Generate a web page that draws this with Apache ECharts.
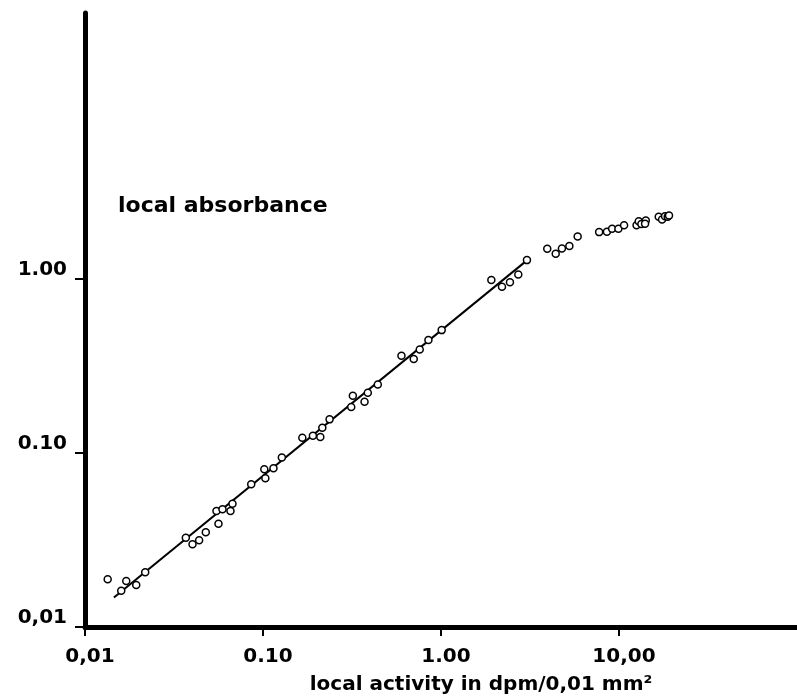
<!DOCTYPE html>
<html>
<head>
<meta charset="utf-8">
<script src="https://cdn.jsdelivr.net/npm/echarts@6/dist/echarts.min.js"></script>
<style>
  html, body { margin: 0; padding: 0; background: #fff; }
  #chart { width: 797px; height: 697px; }
</style>
</head>
<body>
<div id="chart"></div>
<script>
// Tick positions and labels
const xTickValues = [0.01, 0.1, 1, 10];
const xTickLabels = ['0,01', '0.10', '1.00', '10,00'];
const yTickValues = [0.01, 0.1, 1];
const yTickLabels = ['0,01', '0.10', '1.00'];

// Measured points: local activity (x) and local absorbance (y)
const activity = [
  0.01341, 0.01598, 0.01705, 0.01940, 0.02179, 0.03685, 0.04018, 0.04377, 0.04771, 0.05622,
  0.05478, 0.05921, 0.06566, 0.06738, 0.08586, 0.1017, 0.1031, 0.1145, 0.1276, 0.1663,
  0.1907, 0.2099, 0.2154, 0.2366, 0.3131, 0.3197, 0.3719, 0.3880, 0.4416, 0.5996,
  0.7029, 0.7595, 0.8498, 1.009, 1.918, 2.201, 2.440, 2.718, 3.040, 3.953,
  4.411, 4.778, 5.263, 5.858, 7.733, 8.554, 9.148, 9.922, 10.68, 12.55,
  12.91, 13.36, 14.14, 14.01, 16.72, 17.45, 18.14, 18.78, 19.10
];
const absorbance = [
  0.01880, 0.01617, 0.01838, 0.01743, 0.02063, 0.03259, 0.02987, 0.03150, 0.03502, 0.03925,
  0.04642, 0.04747, 0.04642, 0.05112, 0.06618, 0.08059, 0.07156, 0.08167, 0.09421, 0.1224,
  0.1257, 0.1236, 0.1398, 0.1562, 0.1838, 0.2135, 0.1971, 0.2222, 0.2482, 0.3624,
  0.3469, 0.3945, 0.4460, 0.5091, 0.987, 0.903, 0.9585, 1.064, 1.286, 1.497,
  1.398, 1.501, 1.551, 1.760, 1.863, 1.870, 1.946, 1.946, 2.043, 2.038,
  2.149, 2.076, 2.175, 2.079, 2.280, 2.203, 2.302, 2.287, 2.323
];

// Fitted line end points
const fitX = [0.01454, 3.052];
const fitY = [0.01477, 1.286];

const yMax = Math.pow(10, 1.53);

const FONT = 'DejaVu Sans';

const chart = echarts.init(document.getElementById('chart'), null, { renderer: 'canvas' });

function labelFor(values, labels) {
  return function (v) {
    for (let i = 0; i < values.length; i++) {
      if (Math.abs(Math.log10(v) - Math.log10(values[i])) < 1e-6) return labels[i];
    }
    return '';
  };
}

chart.setOption({
  animation: false,
  backgroundColor: '#fff',
  title: {
    text: 'local absorbance',
    left: 118,
    top: 195,
    padding: 0,
    textStyle: { fontFamily: FONT, fontSize: 22, fontWeight: 'bold', color: '#000' }
  },
  grid: { left: 85, right: 0, top: 13, bottom: 70, containLabel: false, outerBoundsMode: 'none' },
  xAxis: {
    type: 'log',
    logBase: 10,
    min: 0.01,
    max: 100,
    name: 'local activity in dpm/0,01 mm²',
    nameLocation: 'middle',
    nameGap: 48,
    nameTextStyle: {
      fontFamily: FONT, fontSize: 20, fontWeight: 'bold', color: '#000',
      padding: [0, 0, 0, 80]
    },
    axisLine: { show: true, lineStyle: { color: '#000', width: 5 } },
    axisTick: { show: true, customValues: xTickValues, length: 9, lineStyle: { color: '#000', width: 2 } },
    minorTick: { show: false },
    axisLabel: {
      customValues: xTickValues,
      formatter: labelFor(xTickValues, xTickLabels),
      fontFamily: FONT, fontSize: 20, fontWeight: 'bold', color: '#000',
      margin: 20, padding: [0, 0, 0, 10]
    },
    splitLine: { show: false }
  },
  yAxis: {
    type: 'log',
    logBase: 10,
    min: 0.01,
    max: yMax,
    axisLine: { show: true, lineStyle: { color: '#000', width: 5 } },
    axisTick: { show: true, customValues: yTickValues, length: 10, lineStyle: { color: '#000', width: 2 } },
    minorTick: { show: false },
    axisLabel: {
      customValues: yTickValues,
      formatter: labelFor(yTickValues, yTickLabels),
      fontFamily: FONT, fontSize: 20, fontWeight: 'bold', color: '#000',
      margin: 18, verticalAlign: 'bottom', lineHeight: 18
    },
    splitLine: { show: false }
  },
  series: [
    {
      type: 'line',
      data: fitX.map((x, i) => [x, fitY[i]]),
      symbol: 'none',
      lineStyle: { color: '#000', width: 2 },
      z: 2
    },
    {
      type: 'scatter',
      data: activity.map((x, i) => [x, absorbance[i]]),
      symbol: 'circle',
      symbolSize: 7,
      itemStyle: { color: '#fff', borderColor: '#000', borderWidth: 1.5, opacity: 1 },
      z: 3
    }
  ]
});
</script>
</body>
</html>
